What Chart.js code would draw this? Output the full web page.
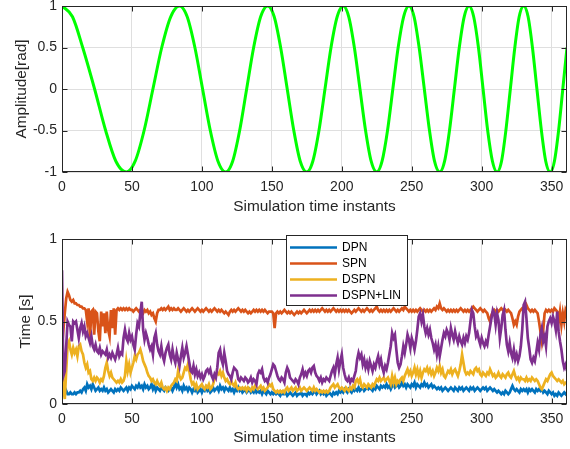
<!DOCTYPE html>
<html><head><meta charset="utf-8">
<script src="https://cdn.jsdelivr.net/npm/chart.js@4"></script>
<style>
html,body{margin:0;padding:0;background:#fff;width:570px;height:449px;overflow:hidden}
#c1{position:absolute;left:0;top:0}
#c2{position:absolute;left:0;top:225px}
</style></head><body>
<canvas id="c1" width="570" height="225"></canvas>
<canvas id="c2" width="570" height="224"></canvas>
<script>
// ---------- data ----------
const instants = Array.from({length: 362}, (_, i) => i);

const chirpT = [0, 7.5, 14.8, 23.3, 31.2, 38.5,
  46, 52.3, 58.7, 65, 71.3, 77.7,
  84, 89.5, 95, 100.5, 106, 111.5,
  117, 122, 127, 132, 137, 142,
  147, 151.7, 156.3, 161, 165.7, 170.3,
  175, 179.3, 183.7, 188, 192.3, 196.7,
  201, 205, 209, 213, 217, 221,
  225, 228.8, 232.7, 236.5, 240.3, 244.2,
  248, 251.7, 255.3, 259, 262.7, 266.3,
  270, 273.5, 277, 280.5, 284, 287.5,
  291, 294.3, 297.7, 301, 304.3, 307.7,
  311, 314.2, 317.3, 320.5, 323.7, 326.8,
  330, 333.2, 336.3, 339.5, 342.7, 345.8,
  349, 352, 355, 358, 361];
const chirpAmp = [1, 0.87, 0.5, 0, -0.5, -0.87,
  -1, -0.87, -0.5, 0, 0.5, 0.87,
  1, 0.87, 0.5, 0, -0.5, -0.87,
  -1, -0.87, -0.5, 0, 0.5, 0.87,
  1, 0.87, 0.5, 0, -0.5, -0.87,
  -1, -0.87, -0.5, 0, 0.5, 0.87,
  1, 0.87, 0.5, 0, -0.5, -0.87,
  -1, -0.87, -0.5, 0, 0.5, 0.87,
  1, 0.87, 0.5, 0, -0.5, -0.87,
  -1, -0.87, -0.5, 0, 0.5, 0.87,
  1, 0.87, 0.5, 0, -0.5, -0.87,
  -1, -0.87, -0.5, 0, 0.5, 0.87,
  1, 0.87, 0.5, 0, -0.5, -0.87,
  -1, -0.87, -0.5, 0, 0.5];

const dpn = [
0.04,0.12,0.10,0.08,0.06,0.06,0.07,0.06,0.06,0.07,
0.06,0.07,0.07,0.08,0.07,0.09,0.10,0.08,0.12,0.10,
0.11,0.09,0.12,0.10,0.08,0.09,0.10,0.08,0.09,0.08,
0.10,0.08,0.09,0.07,0.08,0.09,0.08,0.07,0.09,0.08,
0.09,0.08,0.10,0.09,0.08,0.09,0.10,0.08,0.10,0.09,
0.11,0.10,0.09,0.11,0.10,0.12,0.10,0.11,0.09,0.12,
0.10,0.11,0.09,0.10,0.12,0.09,0.11,0.08,0.10,0.09,
0.08,0.10,0.09,0.08,0.10,0.09,0.08,0.09,0.10,0.08,
0.10,0.13,0.10,0.12,0.09,0.10,0.08,0.11,0.09,0.10,
0.08,0.10,0.09,0.07,0.09,0.08,0.10,0.07,0.08,0.09,
0.07,0.09,0.08,0.10,0.08,0.09,0.07,0.08,0.10,0.08,
0.09,0.10,0.08,0.11,0.09,0.10,0.08,0.10,0.09,0.08,
0.10,0.08,0.09,0.07,0.09,0.08,0.10,0.08,0.09,0.07,
0.08,0.09,0.07,0.08,0.09,0.07,0.08,0.07,0.09,0.07,
0.08,0.07,0.08,0.06,0.08,0.07,0.06,0.08,0.07,0.06,
0.07,0.06,0.07,0.06,0.07,0.06,0.05,0.07,0.06,0.06,
0.07,0.05,0.06,0.07,0.06,0.05,0.06,0.07,0.05,0.06,
0.06,0.07,0.05,0.06,0.06,0.05,0.07,0.06,0.07,0.06,
0.07,0.08,0.06,0.07,0.08,0.06,0.07,0.06,0.07,0.05,
0.06,0.07,0.06,0.05,0.07,0.06,0.07,0.06,0.08,0.07,
0.08,0.07,0.09,0.08,0.07,0.09,0.08,0.07,0.09,0.08,
0.09,0.08,0.10,0.08,0.09,0.10,0.08,0.09,0.10,0.09,
0.10,0.09,0.08,0.10,0.09,0.11,0.10,0.09,0.11,0.10,
0.11,0.10,0.12,0.10,0.11,0.09,0.11,0.12,0.10,0.11,
0.12,0.10,0.11,0.13,0.11,0.12,0.10,0.12,0.11,0.10,
0.12,0.11,0.13,0.10,0.12,0.11,0.10,0.12,0.11,0.13,
0.11,0.12,0.10,0.11,0.12,0.10,0.11,0.10,0.09,0.10,
0.09,0.10,0.08,0.09,0.10,0.09,0.08,0.09,0.10,0.09,
0.08,0.10,0.09,0.08,0.10,0.09,0.10,0.08,0.09,0.10,
0.09,0.08,0.10,0.09,0.10,0.08,0.09,0.10,0.09,0.08,
0.09,0.10,0.09,0.10,0.08,0.09,0.10,0.09,0.08,0.09,
0.08,0.07,0.08,0.07,0.06,0.07,0.06,0.08,0.07,0.06,
0.07,0.09,0.11,0.09,0.08,0.09,0.08,0.07,0.09,0.08,
0.09,0.08,0.09,0.07,0.09,0.08,0.09,0.08,0.07,0.09,
0.08,0.09,0.08,0.09,0.07,0.08,0.07,0.06,0.08,0.07,
0.06,0.07,0.05,0.06,0.05,0.07,0.06,0.05,0.06,0.07,0.06,0.07];

const spn = [
0.50,0.45,0.55,0.64,0.68,0.66,0.63,0.62,0.63,0.61,
0.61,0.60,0.60,0.59,0.59,0.58,0.58,0.57,0.50,0.58,
0.40,0.56,0.57,0.42,0.56,0.55,0.44,0.38,0.56,0.47,
0.55,0.43,0.56,0.45,0.41,0.57,0.46,0.58,0.42,0.57,
0.58,0.57,0.58,0.57,0.58,0.57,0.58,0.57,0.58,0.57,
0.57,0.56,0.57,0.58,0.57,0.56,0.57,0.56,0.55,0.57,
0.56,0.57,0.55,0.56,0.54,0.55,0.52,0.50,0.55,0.57,
0.57,0.58,0.57,0.58,0.57,0.58,0.59,0.57,0.58,0.57,
0.58,0.57,0.57,0.58,0.57,0.56,0.57,0.58,0.57,0.56,
0.57,0.56,0.57,0.58,0.57,0.56,0.57,0.58,0.57,0.56,
0.57,0.56,0.57,0.58,0.57,0.56,0.57,0.56,0.57,0.58,
0.57,0.56,0.57,0.56,0.57,0.56,0.55,0.56,0.55,0.54,
0.56,0.57,0.56,0.57,0.56,0.57,0.58,0.57,0.56,0.57,
0.56,0.57,0.56,0.55,0.56,0.55,0.56,0.57,0.56,0.57,
0.56,0.57,0.56,0.57,0.56,0.57,0.56,0.55,0.56,0.56,
0.56,0.55,0.46,0.55,0.56,0.55,0.56,0.55,0.56,0.57,
0.56,0.55,0.56,0.55,0.56,0.55,0.54,0.55,0.56,0.55,
0.56,0.55,0.56,0.57,0.56,0.55,0.56,0.57,0.56,0.57,
0.56,0.57,0.56,0.57,0.56,0.57,0.58,0.57,0.56,0.57,
0.56,0.57,0.56,0.57,0.58,0.57,0.56,0.57,0.56,0.57,
0.56,0.57,0.56,0.57,0.56,0.57,0.56,0.55,0.56,0.57,
0.56,0.57,0.58,0.57,0.56,0.57,0.56,0.57,0.58,0.57,
0.56,0.57,0.56,0.57,0.58,0.59,0.57,0.56,0.57,0.56,
0.57,0.56,0.57,0.56,0.57,0.56,0.57,0.58,0.57,0.56,
0.57,0.56,0.57,0.58,0.57,0.59,0.58,0.57,0.56,0.57,
0.56,0.57,0.56,0.57,0.56,0.57,0.58,0.57,0.56,0.57,
0.56,0.57,0.56,0.57,0.56,0.57,0.58,0.57,0.59,0.58,
0.61,0.58,0.57,0.58,0.57,0.56,0.57,0.56,0.57,0.56,
0.57,0.56,0.57,0.56,0.57,0.58,0.57,0.56,0.57,0.56,
0.57,0.56,0.57,0.58,0.59,0.58,0.57,0.56,0.57,0.58,
0.57,0.56,0.57,0.56,0.55,0.52,0.50,0.54,0.56,0.57,
0.56,0.57,0.56,0.57,0.58,0.57,0.56,0.57,0.56,0.57,
0.56,0.55,0.52,0.48,0.50,0.48,0.53,0.56,0.57,0.58,
0.57,0.58,0.60,0.58,0.57,0.56,0.57,0.56,0.57,0.56,
0.55,0.50,0.44,0.38,0.45,0.55,0.57,0.56,0.57,0.56,
0.57,0.56,0.58,0.57,0.56,0.50,0.56,0.48,0.55,0.50,0.57,0.55];

const dspn = [
0.33,0.10,0.03,0.20,0.36,0.38,0.33,0.30,0.34,0.31,
0.33,0.29,0.35,0.36,0.32,0.30,0.25,0.22,0.24,0.19,
0.20,0.15,0.14,0.16,0.14,0.16,0.15,0.13,0.15,0.14,
0.17,0.22,0.25,0.20,0.17,0.19,0.16,0.15,0.14,0.13,
0.14,0.13,0.15,0.13,0.14,0.17,0.26,0.20,0.24,0.19,
0.22,0.25,0.29,0.27,0.30,0.31,0.33,0.30,0.26,0.24,
0.22,0.19,0.17,0.16,0.14,0.15,0.13,0.12,0.14,0.12,
0.11,0.13,0.10,0.09,0.10,0.08,0.10,0.09,0.11,0.12,
0.13,0.15,0.14,0.20,0.17,0.15,0.16,0.19,0.22,0.21,
0.24,0.20,0.15,0.12,0.13,0.10,0.12,0.09,0.10,0.11,
0.12,0.10,0.09,0.11,0.10,0.12,0.09,0.10,0.12,0.15,
0.17,0.19,0.18,0.20,0.17,0.19,0.16,0.14,0.15,0.13,
0.12,0.14,0.12,0.11,0.13,0.10,0.09,0.10,0.09,0.10,
0.09,0.10,0.08,0.10,0.09,0.08,0.10,0.09,0.11,0.10,
0.09,0.10,0.11,0.09,0.10,0.08,0.09,0.10,0.12,0.11,
0.12,0.09,0.08,0.07,0.08,0.07,0.08,0.07,0.08,0.07,
0.09,0.10,0.08,0.09,0.10,0.08,0.09,0.10,0.08,0.09,
0.10,0.08,0.09,0.10,0.09,0.08,0.09,0.10,0.09,0.08,
0.10,0.08,0.09,0.08,0.07,0.08,0.07,0.08,0.07,0.08,
0.07,0.08,0.10,0.11,0.12,0.10,0.11,0.12,0.10,0.09,
0.10,0.09,0.08,0.10,0.09,0.08,0.10,0.09,0.11,0.10,
0.14,0.15,0.13,0.15,0.11,0.10,0.12,0.11,0.10,0.12,
0.11,0.10,0.12,0.11,0.13,0.15,0.14,0.16,0.14,0.15,
0.16,0.14,0.15,0.16,0.14,0.12,0.17,0.13,0.16,0.12,
0.14,0.13,0.15,0.16,0.14,0.17,0.19,0.21,0.18,0.20,
0.17,0.19,0.22,0.18,0.21,0.17,0.20,0.16,0.19,0.21,
0.20,0.22,0.19,0.21,0.18,0.20,0.17,0.19,0.22,0.20,
0.23,0.19,0.21,0.17,0.16,0.18,0.20,0.19,0.21,0.18,
0.20,0.21,0.19,0.17,0.20,0.24,0.30,0.25,0.20,0.18,
0.19,0.18,0.20,0.19,0.18,0.21,0.22,0.20,0.21,0.18,
0.17,0.19,0.18,0.17,0.19,0.18,0.21,0.19,0.17,0.18,
0.16,0.17,0.19,0.17,0.16,0.18,0.17,0.16,0.18,0.19,
0.17,0.16,0.18,0.20,0.17,0.15,0.16,0.14,0.16,0.15,
0.15,0.14,0.16,0.14,0.15,0.14,0.16,0.15,0.14,0.15,
0.14,0.12,0.10,0.09,0.11,0.13,0.15,0.14,0.16,0.18,
0.19,0.17,0.16,0.15,0.14,0.15,0.14,0.13,0.14,0.12,0.13,0.13];

const dspnLin = [
0.81,0.17,0.20,0.35,0.50,0.48,0.47,0.38,0.50,0.49,
0.50,0.45,0.40,0.46,0.49,0.44,0.47,0.41,0.43,0.40,
0.37,0.41,0.35,0.33,0.36,0.32,0.31,0.34,0.30,0.32,
0.31,0.30,0.33,0.28,0.30,0.28,0.31,0.29,0.27,0.30,
0.34,0.29,0.31,0.30,0.40,0.45,0.40,0.38,0.43,0.39,
0.41,0.36,0.33,0.42,0.49,0.47,0.55,0.62,0.45,0.39,
0.43,0.40,0.36,0.33,0.35,0.30,0.40,0.43,0.36,0.32,
0.30,0.35,0.29,0.26,0.31,0.34,0.36,0.30,0.27,0.33,
0.28,0.25,0.31,0.27,0.23,0.29,0.34,0.28,0.31,0.35,
0.30,0.25,0.20,0.19,0.23,0.18,0.21,0.17,0.19,0.16,
0.18,0.15,0.17,0.20,0.21,0.19,0.21,0.17,0.15,0.18,
0.16,0.22,0.31,0.33,0.27,0.24,0.31,0.26,0.20,0.18,
0.17,0.15,0.19,0.22,0.21,0.20,0.15,0.14,0.16,0.15,
0.14,0.16,0.15,0.13,0.14,0.16,0.13,0.15,0.14,0.12,
0.18,0.20,0.19,0.21,0.16,0.14,0.15,0.13,0.16,0.18,
0.21,0.24,0.23,0.20,0.17,0.15,0.14,0.16,0.15,0.13,
0.19,0.22,0.20,0.16,0.15,0.14,0.13,0.15,0.14,0.12,
0.16,0.18,0.21,0.17,0.19,0.17,0.20,0.21,0.19,0.22,
0.23,0.19,0.17,0.16,0.14,0.16,0.13,0.15,0.14,0.16,
0.15,0.14,0.17,0.20,0.22,0.18,0.24,0.28,0.21,0.26,
0.30,0.22,0.18,0.15,0.14,0.16,0.13,0.15,0.14,0.17,
0.20,0.27,0.31,0.28,0.30,0.24,0.27,0.22,0.25,0.21,
0.26,0.23,0.20,0.24,0.22,0.26,0.29,0.24,0.27,0.22,
0.19,0.23,0.21,0.25,0.30,0.35,0.43,0.40,0.42,0.33,
0.25,0.22,0.24,0.29,0.35,0.31,0.36,0.42,0.39,0.34,
0.40,0.37,0.33,0.38,0.45,0.53,0.55,0.50,0.54,0.47,
0.43,0.46,0.42,0.45,0.40,0.37,0.33,0.36,0.30,0.35,
0.29,0.34,0.39,0.43,0.41,0.45,0.43,0.39,0.46,0.42,
0.39,0.44,0.40,0.37,0.41,0.38,0.36,0.40,0.37,0.41,
0.39,0.43,0.50,0.57,0.55,0.47,0.41,0.43,0.39,0.36,
0.40,0.37,0.35,0.38,0.36,0.42,0.47,0.52,0.57,0.55,
0.48,0.55,0.51,0.40,0.46,0.54,0.57,0.45,0.36,0.32,
0.37,0.31,0.28,0.33,0.27,0.30,0.26,0.29,0.35,0.45,
0.60,0.62,0.52,0.40,0.34,0.27,0.25,0.28,0.26,0.31,
0.37,0.33,0.42,0.46,0.38,0.41,0.35,0.47,0.50,0.52,
0.49,0.53,0.50,0.45,0.56,0.44,0.38,0.33,0.26,0.22,0.24,0.20];

const seriesNames = ['DPN', 'SPN', 'DSPN', 'DSPN+LIN'];
const seriesColors = ['#0072BD', '#D95319', '#EDB120', '#7E2F8E'];
const xTicks = [0, 50, 100, 150, 200, 250, 300, 350];
const ampTicks = [-1, -0.5, 0, 0.5, 1];
const timeTicks = [0, 0.5, 1];

// ---------- drawing ----------
const FONT = '"Liberation Sans", Arial, Helvetica, sans-serif';
const AXC = '#262626';

const framePlugin = {
  id: 'frame',
  afterDraw(chart) {
    const {ctx, chartArea: a, scales} = chart;
    const L = Math.round(a.left) + 0.5, R = Math.round(a.right) - 0.5;
    const T = Math.round(a.top) + 0.5, B = Math.round(a.bottom) - 0.5;
    ctx.save();
    ctx.strokeStyle = AXC;
    ctx.lineWidth = 1;
    ctx.beginPath();
    const tl = 5;
    scales.x.ticks.forEach(t => {
      const p = Math.round(scales.x.getPixelForValue(t.value)) + 0.5;
      ctx.moveTo(p, B); ctx.lineTo(p, B - tl);
      ctx.moveTo(p, T); ctx.lineTo(p, T + tl);
    });
    scales.y.ticks.forEach(t => {
      const p = Math.round(scales.y.getPixelForValue(t.value)) + 0.5;
      ctx.moveTo(L, p); ctx.lineTo(L + tl, p);
      ctx.moveTo(R, p); ctx.lineTo(R - tl, p);
    });
    ctx.stroke();
    ctx.strokeRect(L, T, R - L, B - T);
    ctx.restore();
  }
};

const legendPlugin = {
  id: 'mlLegend',
  afterDraw(chart) {
    const ctx = chart.ctx;
    const x0 = 286.5, y0 = 10.5, w = 121, h = 70;
    ctx.save();
    ctx.fillStyle = '#fff';
    ctx.fillRect(x0, y0, w, h);
    ctx.strokeStyle = AXC;
    ctx.lineWidth = 1;
    ctx.strokeRect(x0, y0, w, h);
    ctx.font = '12px ' + FONT;
    ctx.textBaseline = 'middle';
    ctx.textAlign = 'left';
    chart.data.datasets.forEach((ds, i) => {
      const y = 22.5 + i * 16;
      ctx.strokeStyle = ds.borderColor;
      ctx.lineWidth = ds.borderWidth;
      ctx.beginPath();
      ctx.moveTo(290, y); ctx.lineTo(337, y);
      ctx.stroke();
      ctx.fillStyle = '#000';
      ctx.fillText(ds.label, 342, y + 0.5);
    });
    ctx.restore();
  }
};

function makeOptions(cfg) {
  return {
    responsive: false,
    animation: false,
    devicePixelRatio: 1,
    layout: {padding: {top: cfg.padTop, right: 3, left: 0, bottom: 0}},
    plugins: {legend: {display: false}, tooltip: {enabled: false}},
    scales: {
      x: {
        type: 'linear', min: 0, max: 361,
        afterBuildTicks: s => { s.ticks = xTicks.map(v => ({value: v})); },
        afterFit: s => { s.height = cfg.xHeight; s.paddingLeft = 0; s.paddingRight = 0; },
        grid: {color: '#dfdfdf', lineWidth: 1, drawTicks: false},
        border: {display: false},
        ticks: {padding: 7, color: AXC, font: {family: FONT, size: 14}, maxRotation: 0, autoSkip: false,
                callback: v => String(v)},
        title: {display: true, text: 'Simulation time instants', color: AXC,
                font: {family: FONT, size: 15.4}, padding: {top: 0, bottom: cfg.xTitlePad}}
      },
      y: {
        type: 'linear', min: cfg.yMin, max: cfg.yMax,
        afterBuildTicks: s => { s.ticks = cfg.yTicks.map(v => ({value: v})); },
        afterFit: s => { s.width = 62; s.paddingTop = 0; s.paddingBottom = 0; },
        grid: {color: '#dfdfdf', lineWidth: 1, drawTicks: false},
        border: {display: false},
        ticks: {padding: 5, color: AXC, font: {family: FONT, size: 14}, autoSkip: false,
                callback: v => String(v)},
        title: {display: true, text: cfg.yTitle, color: AXC,
                font: {family: FONT, size: 15.4}, padding: {top: cfg.yTitlePad, bottom: 0}}
      }
    }
  };
}

new Chart(document.getElementById('c1'), {
  type: 'line',
  data: {
    datasets: [{
      label: 'Amplitude',
      data: chirpT.map((t, i) => ({x: t, y: chirpAmp[i]})),
      borderColor: '#00ff00',
      borderWidth: 3,
      pointRadius: 0,
      cubicInterpolationMode: 'monotone',
      fill: false
    }]
  },
  options: makeOptions({padTop: 6, xHeight: 53, xTitlePad: 8.8, yMin: -1, yMax: 1,
                        yTicks: ampTicks, yTitle: 'Amplitude[rad]', yTitlePad: 13}),
  plugins: [framePlugin]
});

const seriesValues = [dpn, spn, dspn, dspnLin];
new Chart(document.getElementById('c2'), {
  type: 'line',
  data: {
    datasets: seriesValues.map((vals, k) => ({
      label: seriesNames[k],
      data: instants.map((t, i) => ({x: t, y: vals[i]})),
      borderColor: seriesColors[k],
      borderWidth: 2.7,
      pointRadius: 0,
      tension: 0,
      fill: false,
      order: 4 - k
    }))
  },
  options: makeOptions({padTop: 14, xHeight: 45, xTitlePad: 2.5, yMin: 0, yMax: 1,
                        yTicks: timeTicks, yTitle: 'Time [s]', yTitlePad: 17}),
  plugins: [framePlugin, legendPlugin]
});
</script>
</body></html>
